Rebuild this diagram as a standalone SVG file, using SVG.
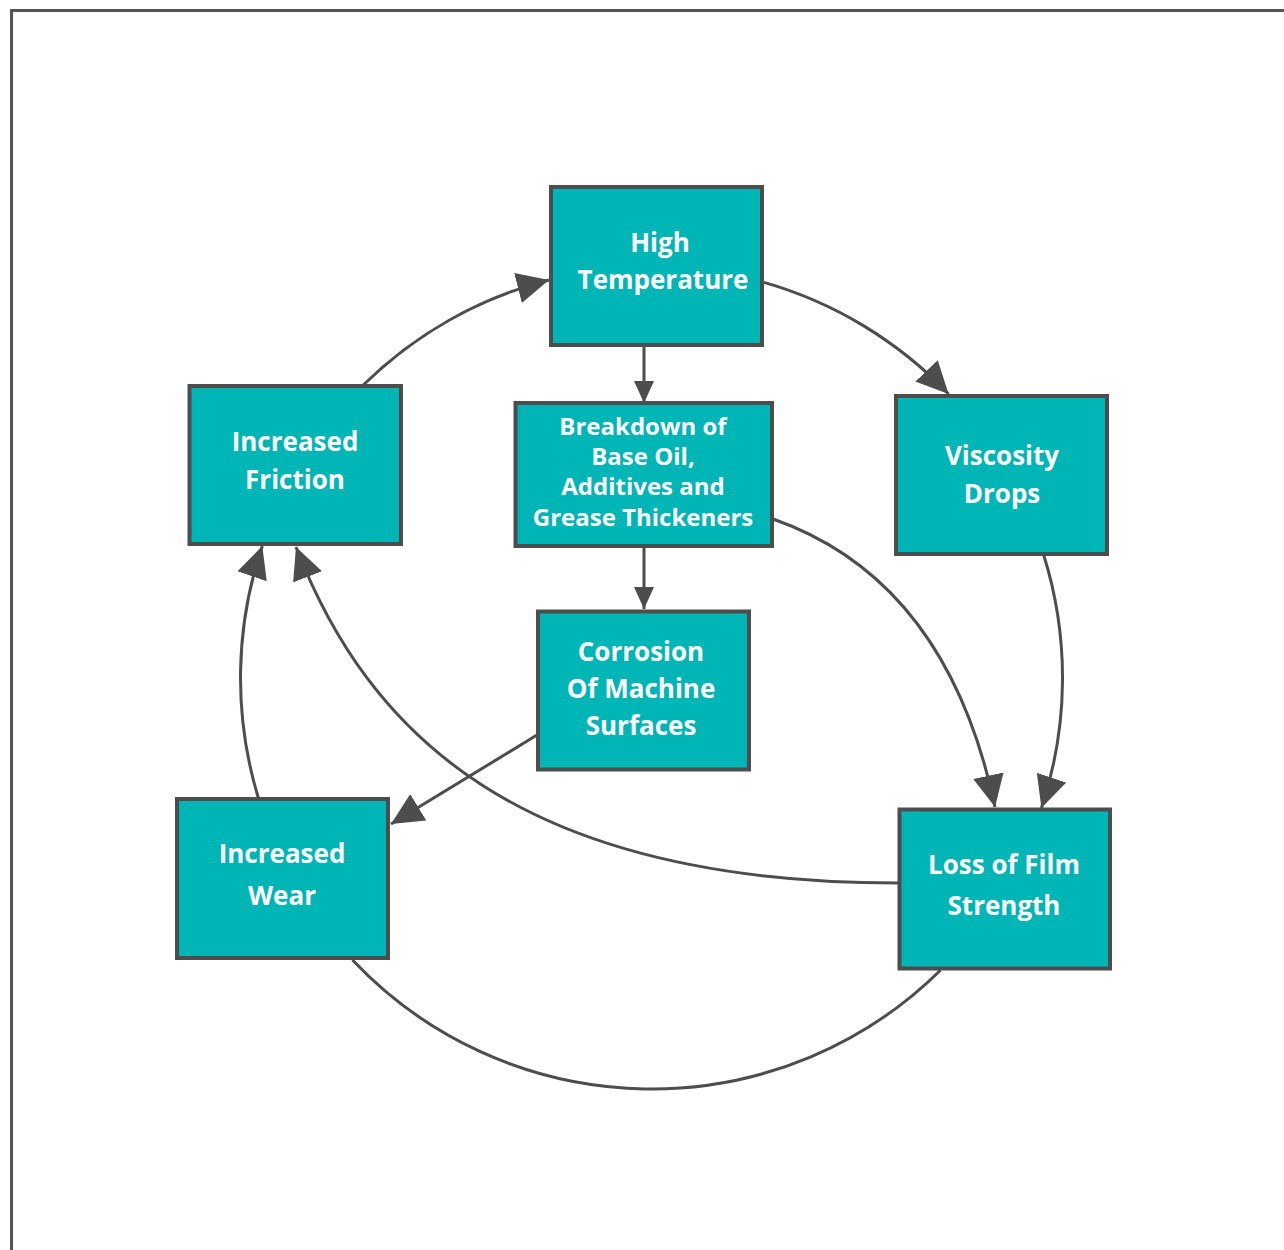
<svg xmlns="http://www.w3.org/2000/svg" width="1284" height="1250" viewBox="0 0 1284 1250">
<style>
.node rect{fill:#00B5B5;stroke:#4D4D4D;stroke-width:4}
.node text{fill:#FFFFFF;font-family:"Open Sans","Noto Sans",sans-serif;font-weight:700;font-size:26px;text-anchor:middle}
.node text.sm{font-size:24px}
.edges path{fill:none;stroke:#4D4D4D;stroke-width:3}
</style>
<defs>
<marker id="big" markerUnits="userSpaceOnUse" markerWidth="34" markerHeight="32" refX="32" refY="15.5" orient="auto" viewBox="0 0 34 32">
<path d="M0,0 L32,15.5 L0,31 Z" fill="#4D4D4D"/>
</marker>
<marker id="small" markerUnits="userSpaceOnUse" markerWidth="24" markerHeight="22" refX="22" refY="10" orient="auto" viewBox="0 0 24 22">
<path d="M0,0 L22,10 L0,20 Z" fill="#4D4D4D"/>
</marker>
</defs>
<rect x="11.5" y="10.5" width="1300" height="1300" fill="#FFFFFF" stroke="#555555" stroke-width="3"/>
<g class="edges">
<path d="M363.3,385 A411,411 0 0 1 549,280" marker-end="url(#big)"/>
<path d="M764,282.4 A411,411 0 0 1 948.6,394" marker-end="url(#big)"/>
<path d="M1043.7,555 A411,411 0 0 1 1041.4,808" marker-end="url(#big)"/>
<path d="M258.4,798 A411,411 0 0 1 262.3,546" marker-end="url(#big)"/>
<path d="M940.7,970 A411,411 0 0 1 352.5,960"/>
<path d="M773,519 Q947,580 995,807" marker-end="url(#big)"/>
<path d="M898,883 C518,883 368,733 296,547" marker-end="url(#big)"/>
<path d="M537,735 L391,824" marker-end="url(#big)"/>
<path d="M644,347 L644,403" marker-end="url(#small)"/>
<path d="M644,548 L644,609" marker-end="url(#small)"/>
</g>
<g id="high-temperature" class="node">
<rect x="551" y="187" width="211" height="158"/>
<text x="660" y="252">High</text>
<text x="663" y="289">Temperature</text>
</g>
<g id="breakdown" class="node">
<rect x="515.5" y="403" width="256.5" height="143"/>
<text class="sm" x="643" y="435">Breakdown of</text>
<text class="sm" x="643" y="465">Base Oil,</text>
<text class="sm" x="643" y="495">Additives and</text>
<text class="sm" x="643" y="526">Grease Thickeners</text>
</g>
<g id="corrosion" class="node">
<rect x="538" y="611.5" width="211" height="158"/>
<text x="641" y="661">Corrosion</text>
<text x="641" y="698">Of Machine</text>
<text x="641" y="735">Surfaces</text>
</g>
<g id="increased-friction" class="node">
<rect x="189.5" y="386" width="211.5" height="158"/>
<text x="295" y="451">Increased</text>
<text x="295" y="489">Friction</text>
</g>
<g id="viscosity-drops" class="node">
<rect x="896" y="396" width="211" height="158"/>
<text x="1002" y="465">Viscosity</text>
<text x="1002" y="503">Drops</text>
</g>
<g id="increased-wear" class="node">
<rect x="177" y="799" width="211" height="159"/>
<text x="282" y="863">Increased</text>
<text x="282" y="905">Wear</text>
</g>
<g id="loss-of-film-strength" class="node">
<rect x="899.5" y="809.5" width="210.5" height="159"/>
<text x="1004" y="874">Loss of Film</text>
<text x="1004" y="915">Strength</text>
</g>
</svg>
